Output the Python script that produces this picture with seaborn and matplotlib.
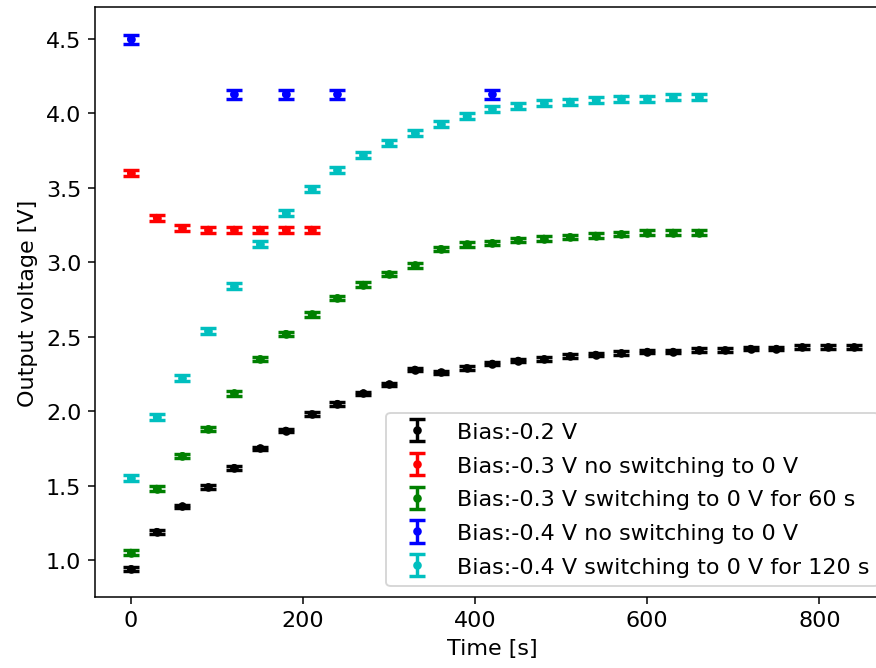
import numpy as np
import pandas as pd
import matplotlib
matplotlib.use('Agg')
import matplotlib.pyplot as plt
import seaborn as sns

# ---- data ----
t_black = list(range(0, 841, 30))
v_black = [0.94, 1.19, 1.36, 1.49, 1.62, 1.75, 1.87, 1.98, 2.05, 2.12,
           2.18, 2.28, 2.26, 2.29, 2.32, 2.34, 2.35, 2.37, 2.38, 2.39,
           2.40, 2.40, 2.41, 2.41, 2.42, 2.42, 2.43, 2.43, 2.43]

t_red = list(range(0, 211, 30))
v_red = [3.60, 3.30, 3.23, 3.22, 3.22, 3.22, 3.22, 3.22]

t_green = list(range(0, 661, 30))
v_green = [1.05, 1.48, 1.70, 1.88, 2.12, 2.35, 2.52, 2.65, 2.76, 2.85,
           2.92, 2.98, 3.09, 3.12, 3.13, 3.15, 3.16, 3.17, 3.18, 3.19,
           3.20, 3.20, 3.20]

t_blue = [0, 120, 180, 240, 420]
v_blue = [4.50, 4.13, 4.13, 4.13, 4.13]

t_cyan = list(range(0, 661, 30))
v_cyan = [1.55, 1.96, 2.22, 2.54, 2.84, 3.12, 3.33, 3.49, 3.62, 3.72,
          3.80, 3.87, 3.93, 3.98, 4.03, 4.05, 4.07, 4.08, 4.09, 4.10,
          4.10, 4.11, 4.11]

labels = ['Bias:-0.2 V',
          'Bias:-0.3 V no switching to 0 V',
          'Bias:-0.3 V switching to 0 V for 60 s',
          'Bias:-0.4 V no switching to 0 V',
          'Bias:-0.4 V switching to 0 V for 120 s']
colors = ['k', 'r', 'g', 'b', 'c']
errs = [0.012, 0.02, 0.015, 0.03, 0.02]

series = [(t_black, v_black), (t_red, v_red), (t_green, v_green),
          (t_blue, v_blue), (t_cyan, v_cyan)]

frames = []
for lab, (t, v), e in zip(labels, series, errs):
    frames.append(pd.DataFrame({'time': t, 'voltage': v, 'err': e, 'series': lab}))
df = pd.concat(frames, ignore_index=True)

plt.rcParams['font.size'] = 11.7

fig, ax = plt.subplots(figsize=(6.4, 4.883), dpi=137)
# right spine sits just past the image edge, as in the reference
fig.subplots_adjust(left=0.108, right=1.015, top=0.988, bottom=0.106)

for lab, col in zip(labels, colors):
    d = df[df['series'] == lab]
    ax.errorbar(d['time'], d['voltage'], yerr=d['err'], fmt='.', color=col,
                ecolor=col, capsize=4, capthick=1.8, elinewidth=1.8,
                markersize=7, label=lab)

sns.scatterplot(data=df, x='time', y='voltage', hue='series',
                palette=dict(zip(labels, colors)), s=16, edgecolor='none',
                legend=False, ax=ax, zorder=3)

ax.set_xlim(-42, 882)
ax.set_ylim(0.751, 4.715)
ax.set_xlabel('Time [s]')
ax.set_ylabel('Output voltage [V]')
ax.legend(loc='lower right', labelspacing=0.62)

plt.savefig('out.png', dpi=137)
